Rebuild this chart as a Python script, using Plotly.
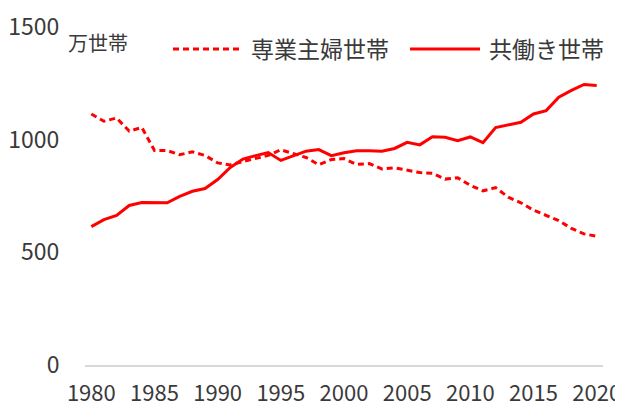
import plotly.graph_objects as go

years = list(range(1980, 2021))
housewife = [1114, 1082, 1096, 1038, 1054, 952, 952, 933, 946, 930,
             897, 888, 903, 915, 930, 955, 937, 921, 889, 912,
             916, 890, 894, 870, 875, 863, 854, 851, 825, 831,
             797, 773, 787, 745, 720, 687, 664, 641, 606, 582, 571]
dual = [614, 645, 664, 708, 721, 722, 720, 748, 771, 783,
        823, 877, 914, 929, 943, 908, 927, 949, 956, 929,
        942, 951, 951, 949, 961, 988, 977, 1013, 1011, 995,
        1012, 987, 1054, 1065, 1077, 1114, 1129, 1188, 1219, 1245, 1240]
name_housewife = "専業主婦世帯"
name_dual = "共働き世帯"
unit_label = "万世帯"
x_ticks = [1980, 1985, 1990, 1995, 2000, 2005, 2010, 2015, 2020]
y_ticks = [0, 500, 1000, 1500]

FONT = "Noto Sans CJK JP"
RED = "#FF0000"
TXT = "#3a3a3a"
DASH = "6px,4px"

# page body has an 8px margin, so the figure is made 8px smaller
OFF = 8
W, H = 623 - OFF, 403 - OFF
ML, MR, MT, MB = 85 - OFF, 20, 27 - OFF, 38
PW, PH = W - ML - MR, H - MT - MB


def px(x):
    return (x - OFF - ML) / PW


def py(y):
    return (H - MB - (y - OFF)) / PH


fig = go.Figure()
fig.add_trace(go.Scatter(x=years, y=housewife, mode="lines", name=name_housewife,
                         line=dict(color=RED, width=3, dash=DASH)))
fig.add_trace(go.Scatter(x=years, y=dual, mode="lines", name=name_dual,
                         line=dict(color=RED, width=3)))

# legend drawn as shapes + text (wider samples like the original)
legend_items = [(name_housewife, DASH, 173, 242, 249),
                (name_dual, "solid", 410, 480, 487)]
shapes = []
annotations = []
for name, dash, x0, x1, tx in legend_items:
    shapes.append(dict(type="line", xref="paper", yref="paper",
                       x0=px(x0), x1=px(x1), y0=py(49), y1=py(49),
                       line=dict(color=RED, width=3, dash=dash)))
    annotations.append(dict(text=name, xref="paper", yref="paper",
                            x=px(tx), y=py(47.5), xanchor="left", yanchor="middle",
                            showarrow=False, font=dict(size=23, color=TXT)))
annotations.append(dict(text=unit_label, xref="paper", yref="paper",
                        x=px(66), y=py(42), xanchor="left", yanchor="middle",
                        showarrow=False, font=dict(size=20, color=TXT)))

fig.update_layout(
    width=W, height=H,
    margin=dict(l=ML, r=MR, t=MT, b=MB),
    paper_bgcolor="white", plot_bgcolor="white",
    font=dict(family=FONT, size=23, color=TXT),
    showlegend=False,
    xaxis=dict(range=[1979.5, 2020.5], tickvals=x_ticks, showgrid=False,
               showline=True, linecolor="#d9d9d9", linewidth=2,
               ticks="outside", ticklen=8, tickcolor="rgba(0,0,0,0)",
               zeroline=False, automargin=False,
               tickfont=dict(size=22, color=TXT)),
    yaxis=dict(range=[0, 1500], tickvals=y_ticks, showgrid=False,
               showline=False, zeroline=False, automargin=False,
               ticks="outside", ticklen=20, tickcolor="rgba(0,0,0,0)",
               tickfont=dict(size=23, color=TXT)),
    shapes=shapes,
    annotations=annotations,
)

fig.write_html("out.html")
